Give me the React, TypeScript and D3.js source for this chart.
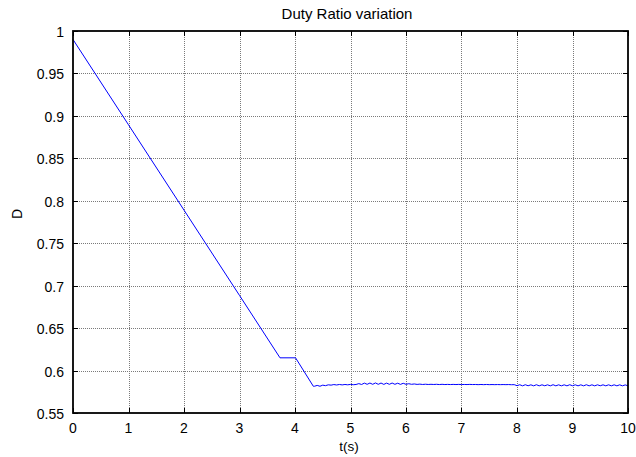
import React, { useEffect, useRef } from "react";
import * as d3 from "d3";

// ramp section
const rampT = [0, 1, 2, 3, 3.73, 4.01, 4.33];
const rampD = [0.99, 0.8895, 0.789, 0.6885, 0.615, 0.615, 0.5815];

// steady section, sampled every 0.05 s from 4.35 s
const steadyStart = 4.35;
const steadyStep = 0.05;
const steadyD = [
  0.5815, 0.5825, 0.5815, 0.5828, 0.5822, 0.5832, 0.5828, 0.5835, 0.583, 0.5836,
  0.5831, 0.5836, 0.5832, 0.5837, 0.5833, 0.5836, 0.5846, 0.5836, 0.5852, 0.5838,
  0.5853, 0.5838, 0.5854, 0.5838, 0.5853, 0.5837, 0.5852, 0.5838, 0.5853, 0.5838,
  0.5851, 0.5837, 0.585, 0.5838, 0.5845, 0.5838, 0.5842, 0.5837, 0.584, 0.5836,
  0.5839, 0.5836, 0.5838, 0.5836, 0.5838, 0.5835, 0.5838, 0.5835, 0.5837, 0.5835,
  0.5837, 0.5835, 0.5837, 0.5835, 0.5836, 0.5835, 0.5837, 0.5835, 0.5836, 0.5834,
  0.5836, 0.5834, 0.5836, 0.5834, 0.5835, 0.5834, 0.5835, 0.5834, 0.5835, 0.5834,
  0.5835, 0.5833, 0.5834, 0.5822, 0.5833, 0.582, 0.5833, 0.5821, 0.5832, 0.582,
  0.5833, 0.582, 0.5832, 0.5821, 0.5832, 0.582, 0.5833, 0.582, 0.5832, 0.582,
  0.5832, 0.582, 0.5833, 0.5821, 0.5832, 0.582, 0.5832, 0.582, 0.5833, 0.582,
  0.5832, 0.582, 0.5832, 0.5821, 0.5832, 0.582, 0.5832, 0.582, 0.5832, 0.582,
  0.5832, 0.582, 0.5831, 0.582,
];

const xTicks = [0, 1, 2, 3, 4, 5, 6, 7, 8, 9, 10];
const yTicks = [0.55, 0.6, 0.65, 0.7, 0.75, 0.8, 0.85, 0.9, 0.95, 1];

const App = () => {
  const ref = useRef<SVGSVGElement>(null);

  useEffect(() => {
    const width = 636;
    const height = 457;
    const left = 73;
    const right = 628;
    const top = 31;
    const bottom = 413;
    const font = "'Liberation Sans', Arial, sans-serif";

    const svg = d3.select(ref.current)
      .attr("width", width)
      .attr("height", height)
      .style("background", "white");
    svg.selectAll("*").remove();

    const x = d3.scaleLinear().domain([0, 10]).range([left, right]);
    const y = d3.scaleLinear().domain([0.55, 1]).range([bottom, top]);

    // grid
    const grid = svg.append("g");
    xTicks.slice(1, -1).forEach((t) => {
      const px = Math.round(x(t)) + 0.5;
      grid.append("line")
        .attr("x1", px).attr("x2", px)
        .attr("y1", top).attr("y2", bottom)
        .attr("stroke", "#7a7a7a")
        .attr("stroke-width", 1)
        .attr("stroke-dasharray", "1,1");
    });
    yTicks.slice(1, -1).forEach((v) => {
      const py = Math.round(y(v)) + 0.5;
      grid.append("line")
        .attr("x1", left).attr("x2", right)
        .attr("y1", py).attr("y2", py)
        .attr("stroke", "#7a7a7a")
        .attr("stroke-width", 1)
        .attr("stroke-dasharray", "1,1");
    });

    // data
    const pts: [number, number][] = rampT.map((t, i) => [t, rampD[i]]);
    steadyD.forEach((d, i) => pts.push([steadyStart + i * steadyStep, d]));

    const line = d3.line<[number, number]>()
      .x((d) => x(d[0]))
      .y((d) => y(d[1]));

    svg.append("path")
      .attr("d", line(pts))
      .attr("fill", "none")
      .attr("stroke", "#0000ff")
      .attr("stroke-width", 1);

    // ticks (inside, all sides)
    const tl = 5;
    const ticks = svg.append("g").attr("stroke", "black").attr("stroke-width", 1);
    xTicks.forEach((t) => {
      const px = Math.round(x(t)) + 0.5;
      ticks.append("line").attr("x1", px).attr("x2", px).attr("y1", bottom).attr("y2", bottom - tl);
      ticks.append("line").attr("x1", px).attr("x2", px).attr("y1", top).attr("y2", top + tl);
    });
    yTicks.forEach((v) => {
      const py = Math.round(y(v)) + 0.5;
      ticks.append("line").attr("x1", left).attr("x2", left + tl).attr("y1", py).attr("y2", py);
      ticks.append("line").attr("x1", right).attr("x2", right - tl).attr("y1", py).attr("y2", py);
    });

    // box
    svg.append("rect")
      .attr("x", left).attr("y", top)
      .attr("width", right - left).attr("height", bottom - top)
      .attr("fill", "none")
      .attr("stroke", "black")
      .attr("stroke-width", 1.8);

    // tick labels
    xTicks.forEach((t) => {
      svg.append("text")
        .attr("x", x(t)).attr("y", bottom + 20)
        .attr("text-anchor", "middle")
        .attr("font-family", font)
        .attr("font-size", "14px")
        .text(t);
    });
    yTicks.forEach((v) => {
      svg.append("text")
        .attr("x", left - 9).attr("y", y(v) + 1)
        .attr("text-anchor", "end")
        .attr("dominant-baseline", "central")
        .attr("font-family", font)
        .attr("font-size", "14px")
        .text(d3.format("~g")(v));
    });

    // titles
    svg.append("text")
      .attr("x", 347).attr("y", 19)
      .attr("text-anchor", "middle")
      .attr("font-family", font)
      .attr("font-size", "15px")
      .text("Duty Ratio variation");

    svg.append("text")
      .attr("x", 349).attr("y", 451)
      .attr("text-anchor", "middle")
      .attr("font-family", font)
      .attr("font-size", "13.5px")
      .text("t(s)");

    svg.append("text")
      .attr("transform", "translate(22,214) rotate(-90)")
      .attr("text-anchor", "middle")
      .attr("font-family", font)
      .attr("font-size", "14px")
      .text("D");
  }, []);

  return (
    <div style={{ position: "absolute", left: 0, top: 0 }}>
      <svg ref={ref} style={{ display: "block" }}></svg>
    </div>
  );
};

export default App;
